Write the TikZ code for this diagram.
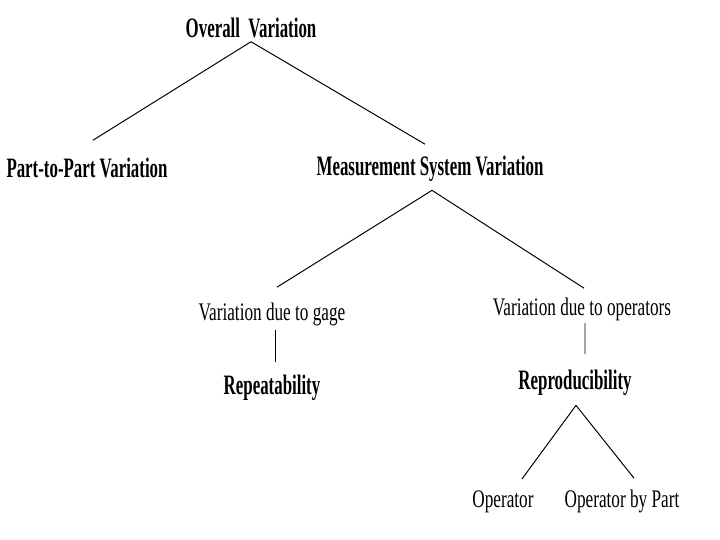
\documentclass[tikz,border=0pt]{standalone}
\usepackage{fontspec}
\newfontfamily\headfont[FakeStretch=0.6]{Liberation Serif}
\newfontfamily\leaffont[FakeStretch=0.68]{Liberation Serif}
\begin{document}
\begin{tikzpicture}[head/.style={inner sep=0pt,anchor=base,
  font=\headfont\bfseries\fontsize{20}{24}\selectfont},
  leaf/.style={inner sep=0pt,anchor=base,
  font=\leaffont\fontsize{18}{22}\selectfont},
  edge/.style={line width=0.7pt}]
\useasboundingbox (0,0) rectangle (18,-13.5);
\node[head] (overall) at (6.275,-0.925) {Overall~~Variation};
\node[head] (parttopart) at (2.175,-4.425) {Part-to-Part Variation};
\node[head] (msv) at (10.75,-4.375) {Measurement System Variation};
\node[leaf] (gage) at (6.8,-8.0) {Variation due to gage};
\node[leaf] (operators) at (14.55,-7.875) {Variation due to operators};
\node[head] (repeat) at (6.8,-9.85) {Repeatability};
\node[head] (repro) at (14.375,-9.725) {Reproducibility};
\node[leaf] (operator) at (12.575,-12.675) {Operator};
\node[leaf] (opbypart) at (15.55,-12.675) {Operator by Part};
% first level
\draw[edge] ([yshift=-0.1cm]overall.south)--([xshift=0.15cm,yshift=0.425cm]parttopart.north);
\draw[edge] ([yshift=-0.1cm]overall.south)--([xshift=-0.125cm,yshift=0.275cm]msv.north);
% measurement system
\draw[edge] ([xshift=0.05cm,yshift=-0.225cm]msv.south)--([xshift=0.125cm,yshift=0.375cm]gage.north);
\draw[edge] ([xshift=0.05cm,yshift=-0.225cm]msv.south)--([xshift=0.05cm,yshift=0.225cm]operators.north);
\draw[edge] ([xshift=0.075cm,yshift=-0.11cm]gage.south)--([xshift=0.075cm,yshift=0.3cm]repeat.north);
\draw[edge] ([xshift=0.075cm,yshift=-0.06cm]operators.south)--([xshift=0.25cm,yshift=0.375cm]repro.north);
% reproducibility
\draw[edge] ([xshift=0.025cm,yshift=-0.25cm]repro.south)--([xshift=0.475cm,yshift=0.275cm]operator.north);
\draw[edge] ([xshift=0.025cm,yshift=-0.25cm]repro.south)--([xshift=0.3cm,yshift=0.275cm]opbypart.north);
\end{tikzpicture}
\end{document}
